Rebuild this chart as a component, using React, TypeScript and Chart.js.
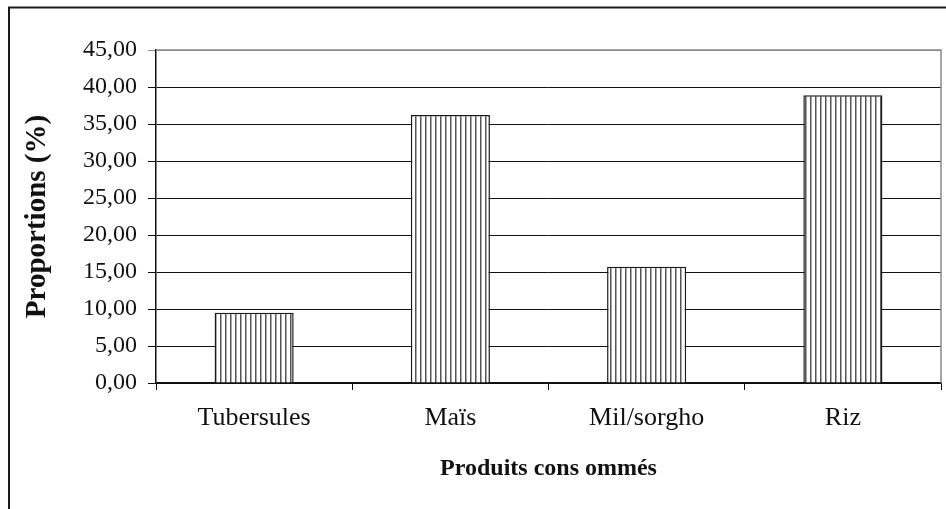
import React, { useEffect, useRef } from "react";
import { Chart, registerables } from "chart.js";

Chart.register(...registerables);

const categories = ["Tubersules", "Maïs", "Mil/sorgho", "Riz"];
const proportions = [9.5, 36.2, 15.7, 38.9];
const yMin = 0;
const yMax = 45;
const yStep = 5;
const xTitle = "Produits cons ommés";
const yTitle = "Proportions (%)";

const FONT = "'Liberation Serif', 'Times New Roman', serif";

function makePattern(): CanvasPattern | string {
  const c = document.createElement("canvas");
  c.width = 5;
  c.height = 4;
  const g = c.getContext("2d");
  if (!g) return "#fff";
  g.fillStyle = "#ffffff";
  g.fillRect(0, 0, 5, 4);
  g.fillStyle = "#555555";
  g.fillRect(0, 0, 1, 4);
  g.fillStyle = "#a8a8a8";
  g.fillRect(1, 0, 1, 4);
  const p = g.createPattern(c, "repeat");
  return p || "#fff";
}

const framePlugin = {
  id: "frame",
  beforeDraw(chart: any) {
    const ctx = chart.ctx;
    ctx.save();
    ctx.strokeStyle = "#1a1a1a";
    ctx.lineWidth = 2;
    ctx.beginPath();
    ctx.moveTo(9, 509);
    ctx.lineTo(9, 7.5);
    ctx.lineTo(946, 7.5);
    ctx.stroke();
    ctx.restore();
  },
  afterDraw(chart: any) {
    const { ctx, chartArea } = chart;
    ctx.save();
    ctx.strokeStyle = "#8a8a8a";
    ctx.lineWidth = 1.5;
    ctx.beginPath();
    ctx.moveTo(chartArea.left, chartArea.top);
    ctx.lineTo(chartArea.right, chartArea.top);
    ctx.lineTo(chartArea.right, chartArea.bottom);
    ctx.stroke();
    ctx.restore();
  },
};

export default function App() {
  const ref = useRef<HTMLCanvasElement | null>(null);

  useEffect(() => {
    if (!ref.current) return;
    const pattern = makePattern();
    const chart = new Chart(ref.current, {
      type: "bar",
      data: {
        labels: categories,
        datasets: [
          {
            data: proportions,
            backgroundColor: pattern as any,
            borderColor: "#1a1a1a",
            borderWidth: 1.5,
            barPercentage: 0.403,
            categoryPercentage: 1,
          },
        ],
      },
      plugins: [framePlugin],
      options: {
        responsive: false,
        animation: false,
        devicePixelRatio: 1,
        layout: { padding: { left: 10, top: 50, right: 5, bottom: 0 } },
        plugins: {
          legend: { display: false },
          tooltip: { enabled: false },
        },
        scales: {
          x: {
            afterFit: (s: any) => {
              s.height = 126;
            },
            grid: {
              offset: true,
              drawOnChartArea: false,
              drawTicks: true,
              tickLength: 7,
              color: "#111",
              lineWidth: 1,
            },
            border: { color: "#111", width: 1.5 },
            ticks: {
              color: "#111",
              padding: 13,
              font: { family: FONT, size: 26 },
            },
            title: {
              display: true,
              text: xTitle,
              color: "#111",
              font: { family: FONT, size: 24, weight: "bold" },
              padding: { top: 0, bottom: 26 },
            },
          },
          y: {
            min: yMin,
            max: yMax,
            afterFit: (s: any) => {
              s.width = 146;
            },
            grid: {
              color: (c: any) => (c.tick && c.tick.value === yMax ? "#8a8a8a" : "#111"),
              lineWidth: 1,
              drawTicks: true,
              tickLength: 8,
            },
            border: { color: "#111", width: 1.5 },
            ticks: {
              stepSize: yStep,
              color: "#111",
              padding: 11,
              font: { family: FONT, size: 24 },
              callback: (v: any) => Number(v).toFixed(2).replace(".", ","),
            },
            title: {
              display: true,
              text: yTitle,
              color: "#111",
              font: { family: FONT, size: 29, weight: "bold" },
              padding: { top: 10, bottom: 0 },
            },
          },
        },
      },
    });
    return () => chart.destroy();
  }, []);

  return (
    <div style={{ position: "fixed", left: 0, top: 0, width: 946, height: 509, background: "#fff" }}>
      <canvas ref={ref} width={946} height={509} style={{ display: "block", width: 946, height: 509 }} />
    </div>
  );
}
